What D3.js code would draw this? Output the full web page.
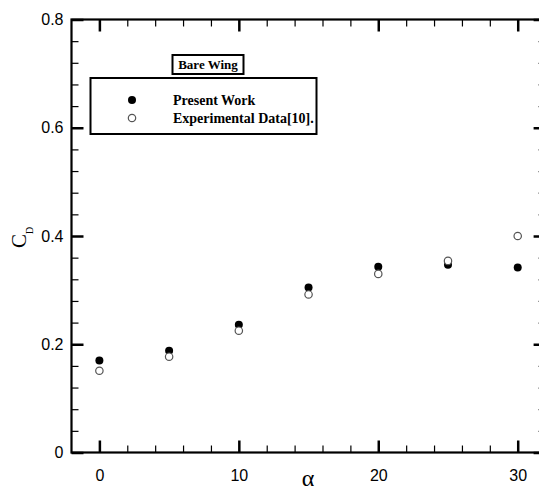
<!DOCTYPE html>
<html>
<head>
<meta charset="utf-8">
<script src="https://cdn.jsdelivr.net/npm/d3@7"></script>
<style>
  body { margin: 0; background: #fff; }
  svg { display: block; overflow: hidden; }
  .tick text { font-family: "Liberation Sans", Arial, sans-serif; font-size: 16px; fill: #000; }
</style>
</head>
<body>
<div id="chart"></div>
<script>
const width = 539;
const height = 493;

// angle of attack and drag coefficient
const alpha = [0, 5, 10, 15, 20, 25, 30];
const presentWork = [0.170, 0.188, 0.236, 0.305, 0.343, 0.347, 0.342];
const experimental = [0.151, 0.177, 0.225, 0.292, 0.330, 0.354, 0.400];

const xMajor = [0, 10, 20, 30];
const xMinor = [2, 4, 6, 8, 12, 14, 16, 18, 22, 24, 26, 28];
const yMajor = [0, 0.2, 0.4, 0.6, 0.8];
const yMinor = [0.04, 0.08, 0.12, 0.16, 0.24, 0.28, 0.32, 0.36, 0.44, 0.48, 0.52, 0.56, 0.64, 0.68, 0.72, 0.76];

const legendLabels = ["Present Work", "Experimental Data[10]."];

const svg = d3.select("#chart")
  .append("svg")
  .attr("width", width)
  .attr("height", height);

const xScale = d3.scaleLinear().domain([-2, 32]).range([71.5, 545.6]);
const yScale = d3.scaleLinear().domain([0, 0.8]).range([452.5, 19.5]);

const x0 = xScale.range()[0], x1 = xScale.range()[1];
const y0 = yScale.range()[0], y1 = yScale.range()[1];

function styleTicks(g, w) {
  g.select(".domain").remove();
  g.selectAll(".tick line").attr("stroke", "#000").attr("stroke-width", w);
}

// bottom
svg.append("g").attr("transform", `translate(0,${y0})`)
  .call(d3.axisBottom(xScale).tickValues(xMinor).tickSize(-7).tickFormat(""))
  .call(g => styleTicks(g, 1.2));
svg.append("g").attr("transform", `translate(0,${y0})`)
  .call(d3.axisBottom(xScale).tickValues(xMajor).tickSize(-12).tickPadding(17).tickFormat(d3.format("d")))
  .call(g => styleTicks(g, 2.5));

// top
svg.append("g").attr("transform", `translate(0,${y1})`)
  .call(d3.axisTop(xScale).tickValues(xMinor).tickSize(-7).tickFormat(""))
  .call(g => styleTicks(g, 1.2));
svg.append("g").attr("transform", `translate(0,${y1})`)
  .call(d3.axisTop(xScale).tickValues(xMajor).tickSize(-12).tickFormat(""))
  .call(g => styleTicks(g, 2.5));

// left
svg.append("g").attr("transform", `translate(${x0},0)`)
  .call(d3.axisLeft(yScale).tickValues(yMinor).tickSize(-7).tickFormat(""))
  .call(g => styleTicks(g, 1.2));
svg.append("g").attr("transform", `translate(${x0},0)`)
  .call(d3.axisLeft(yScale).tickValues(yMajor).tickSize(-12).tickFormat(d => d === 0 ? "0" : d3.format(".1f")(d)))
  .call(g => styleTicks(g, 2.5))
  .call(g => g.selectAll(".tick text").attr("x", -8));

// right
svg.append("g").attr("transform", `translate(${x1},0)`)
  .call(d3.axisRight(yScale).tickValues(yMinor).tickSize(-7).tickFormat(""))
  .call(g => styleTicks(g, 1.2));
svg.append("g").attr("transform", `translate(${x1},0)`)
  .call(d3.axisRight(yScale).tickValues(yMajor).tickSize(-12).tickFormat(""))
  .call(g => styleTicks(g, 2.5));

// frame
svg.append("rect")
  .attr("x", x0).attr("y", y1)
  .attr("width", x1 - x0).attr("height", y0 - y1)
  .attr("fill", "none").attr("stroke", "#000").attr("stroke-width", 2.2);

// points: filled first, open drawn over
svg.append("g").selectAll("circle")
  .data(alpha.map((a, i) => [a, presentWork[i]]))
  .join("circle")
  .attr("cx", d => xScale(d[0]))
  .attr("cy", d => yScale(d[1]))
  .attr("r", 4)
  .attr("fill", "#000");

svg.append("g").selectAll("circle")
  .data(alpha.map((a, i) => [a, experimental[i]]))
  .join("circle")
  .attr("cx", d => xScale(d[0]))
  .attr("cy", d => yScale(d[1]))
  .attr("r", 3.7)
  .attr("fill", "#fff")
  .attr("stroke", "#555")
  .attr("stroke-width", 1.2);

// axis titles
svg.append("text")
  .attr("transform", "translate(26,248) rotate(-90)")
  .attr("font-family", "Liberation Serif, Times New Roman, serif")
  .attr("font-size", 21)
  .text("C")
  .append("tspan")
  .attr("font-size", 10)
  .attr("dy", 7)
  .text("D");

svg.append("text")
  .attr("x", 308).attr("y", 486)
  .attr("text-anchor", "middle")
  .attr("font-family", "Liberation Serif, Times New Roman, serif")
  .attr("font-size", 24)
  .text("α");

// legend
svg.append("rect")
  .attr("x", 172.5).attr("y", 55).attr("width", 71).attr("height", 19)
  .attr("fill", "#fff").attr("stroke", "#000").attr("stroke-width", 2);
svg.append("text")
  .attr("x", 208).attr("y", 69)
  .attr("text-anchor", "middle")
  .attr("font-family", "Liberation Serif, Times New Roman, serif")
  .attr("font-weight", "bold")
  .attr("font-size", 13)
  .text("Bare Wing");

svg.append("rect")
  .attr("x", 90.5).attr("y", 78).attr("width", 226).attr("height", 56)
  .attr("fill", "#fff").attr("stroke", "#000").attr("stroke-width", 2);

const legend = svg.append("g").selectAll("g")
  .data(legendLabels)
  .join("g")
  .attr("transform", (d, i) => `translate(0,${100 + i * 18})`);

legend.append("circle")
  .attr("cx", 132).attr("cy", 0).attr("r", (d, i) => i === 0 ? 4 : 3.7)
  .attr("fill", (d, i) => i === 0 ? "#000" : "#fff")
  .attr("stroke", (d, i) => i === 0 ? "none" : "#555")
  .attr("stroke-width", 1.2);

legend.append("text")
  .attr("x", 173).attr("y", 5)
  .attr("font-family", "Liberation Serif, Times New Roman, serif")
  .attr("font-weight", "bold")
  .attr("font-size", 14)
  .text(d => d);
</script>
</body>
</html>
